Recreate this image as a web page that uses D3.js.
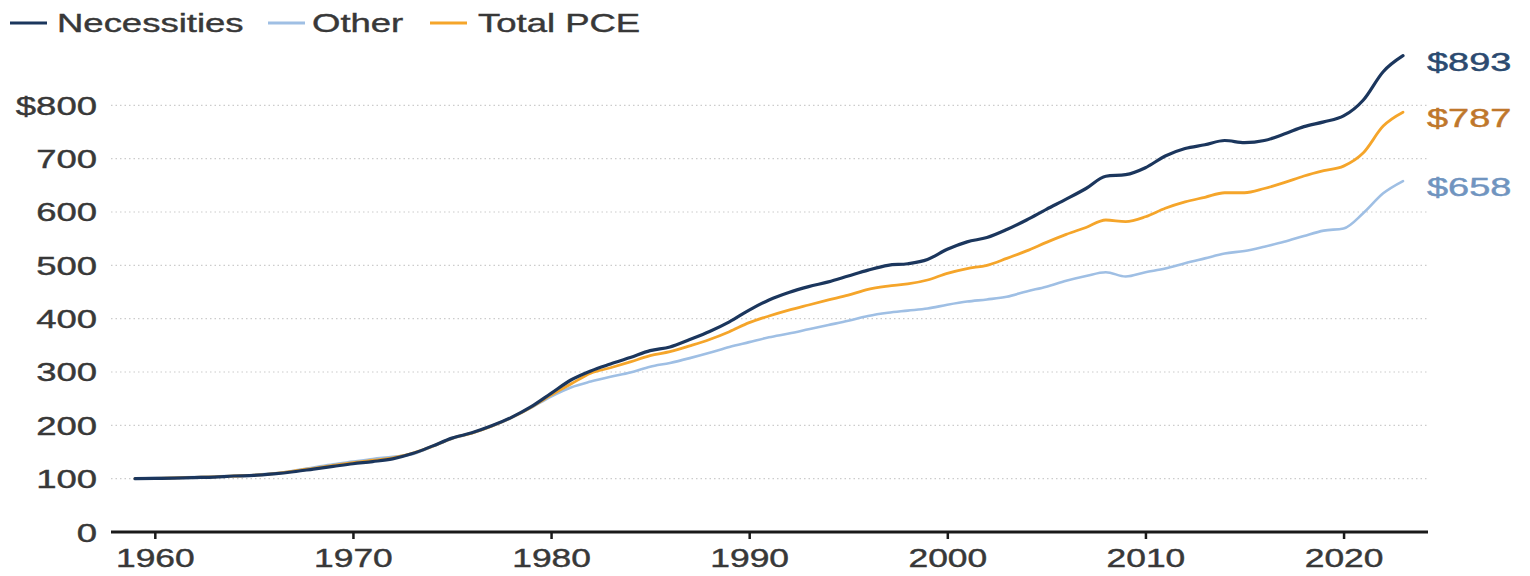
<!DOCTYPE html>
<html>
<head>
<meta charset="utf-8">
<script src="https://cdn.jsdelivr.net/npm/d3@7"></script>
<style>
  html, body { margin: 0; padding: 0; background: #fff; }
  svg { display: block; }
  text { font-family: "Liberation Sans", Arial, sans-serif; }
</style>
</head>
<body>
<svg id="chart" width="1530" height="576"></svg>
<script>
// ---- Data (index, 1959 = 100) ----
const years = d3.range(1959, 2024);
const necessities = [
  100, 100.5, 101, 102, 103, 105, 106, 109, 113, 118,
  123, 128, 132, 137, 147, 161, 176, 186, 199, 215,
  235, 260, 285, 302, 315, 327, 340, 347, 361, 376,
  394, 416, 435, 449, 460, 469, 480, 491, 500, 503,
  511, 530, 544, 552, 567, 585, 605, 624, 644, 667,
  670, 683, 705, 719, 726, 734, 730, 734, 746, 760,
  769, 780, 810, 863, 893
];
const other = [
  100, 101, 102, 103, 104, 105.5, 107, 110, 115, 121,
  127, 132, 137, 141, 146, 160, 175, 185, 198, 214,
  233, 254, 271, 282, 291, 299, 310, 317, 326, 336,
  347, 356, 365, 372, 380, 388, 396, 405, 411, 415,
  419, 426, 432, 436, 441, 451, 460, 471, 480, 487,
  479, 487, 494, 504, 513, 522, 527, 535, 544, 555,
  565, 569, 598, 635, 658
];
const totalPCE = [
  100, 100.7, 101.5, 102.5, 103.5, 105, 106.5, 109.5, 114, 119.5,
  125, 130, 134.5, 139, 147.5, 160.5, 175.5, 185.5, 198.5, 214.5,
  234, 257, 277.5, 297.6, 308, 319, 330.6, 338, 349, 361,
  375.6, 392.5, 405, 416, 425.6, 435, 444, 455, 461, 465,
  472.5, 485, 494, 500, 513, 527, 543, 558, 571, 585,
  582, 591, 607, 619, 627.5, 636, 636, 644, 655, 667.5,
  677.5, 686, 711, 761, 787
];
const seriesNames = ["Necessities", "Other", "Total PCE"];
const xTickValues = [1960, 1970, 1980, 1990, 2000, 2010, 2020];
const yTickValues = [0, 100, 200, 300, 400, 500, 600, 700, 800];

// ---- Styles ----
const lineColors = { "Necessities": "#1b365d", "Other": "#9fbfe4", "Total PCE": "#f5a52a" };
const labelColors = { "Necessities": "#2b4a70", "Other": "#7094bf", "Total PCE": "#bf772b" };
const lineWidths = { "Necessities": 3.2, "Other": 2.6, "Total PCE": 2.8 };
const SX = 1.46; // horizontal text stretch of the reference
const textColor = "#383838";

const svg = d3.select("#chart");

const x = d3.scaleLinear().domain([1959, 2023]).range([135, 1403]);
const y = d3.scaleLinear().domain([0, 800]).range([532, 105.3]);

const plotLeft = 111, plotRight = 1428;

// gridlines
svg.append("g").selectAll("line")
  .data(yTickValues.filter(d => d > 0))
  .join("line")
  .attr("x1", plotLeft).attr("x2", plotRight)
  .attr("y1", d => y(d)).attr("y2", d => y(d))
  .attr("stroke", "#cccccc")
  .attr("stroke-width", 1.2)
  .attr("stroke-dasharray", "1.5,3");

// y axis labels
const yAxis = svg.append("g")
  .attr("transform", "translate(97,0)")
  .call(d3.axisLeft(y).tickValues(yTickValues).tickSize(0).tickPadding(0)
    .tickFormat(d => d === 800 ? "$800" : String(d)));
yAxis.select(".domain").remove();
yAxis.selectAll("text")
  .attr("font-size", 25)
  .attr("fill", textColor)
  .attr("stroke", textColor)
  .attr("stroke-width", 0.4)
  .attr("dy", "0.36em")
  .attr("transform", `scale(${SX},1)`);

// x axis
const xAxis = svg.append("g")
  .attr("transform", "translate(0,532)")
  .call(d3.axisBottom(x).tickValues(xTickValues).tickSize(7).tickSizeOuter(0).tickPadding(10)
    .tickFormat(d3.format("d")));
xAxis.select(".domain")
  .attr("d", `M${plotLeft},0H${plotRight}`)
  .attr("stroke", "#1a1a1a").attr("stroke-width", 3);
xAxis.selectAll(".tick line").attr("stroke", "#1a1a1a").attr("stroke-width", 2.5);
xAxis.selectAll("text")
  .attr("font-size", 25)
  .attr("fill", textColor)
  .attr("stroke", textColor)
  .attr("stroke-width", 0.4)
  .attr("transform", `scale(${SX * 0.97},1)`);

// lines
const dataBy = {
  "Necessities": necessities,
  "Other": other,
  "Total PCE": totalPCE
};
const line = d3.line()
  .x((d, i) => x(years[i]))
  .y(d => y(d))
  .curve(d3.curveMonotoneX);

["Other", "Total PCE", "Necessities"].forEach(name => {
  svg.append("path")
    .datum(dataBy[name])
    .attr("fill", "none")
    .attr("stroke", lineColors[name])
    .attr("stroke-width", lineWidths[name])
    .attr("stroke-linejoin", "round")
    .attr("stroke-linecap", "round")
    .attr("d", line);
});

// end labels
["Necessities", "Total PCE", "Other"].forEach(name => {
  const vals = dataBy[name];
  const last = vals[vals.length - 1];
  svg.append("text")
    .attr("transform", `translate(1427,${y(last) + 15}) scale(${SX * 1.04},1)`)
    .attr("font-size", 25)
    .attr("fill", labelColors[name])
    .attr("stroke", labelColors[name])
    .attr("stroke-width", 0.45)
    .text("$" + d3.format("d")(last));
});

// legend
const legendItems = [
  { name: "Necessities", lx: 10, tx: 57 },
  { name: "Other", lx: 268, tx: 312 },
  { name: "Total PCE", lx: 430, tx: 478 }
];
const lg = svg.append("g");
legendItems.forEach(it => {
  lg.append("line")
    .attr("x1", it.lx).attr("x2", it.lx + 37)
    .attr("y1", 23).attr("y2", 23)
    .attr("stroke", lineColors[it.name])
    .attr("stroke-width", 3);
  lg.append("text")
    .attr("transform", `translate(${it.tx},32) scale(${SX},1)`)
    .attr("font-size", 25)
    .attr("fill", textColor)
    .attr("stroke", textColor)
    .attr("stroke-width", 0.4)
    .text(it.name);
});
</script>
</body>
</html>
